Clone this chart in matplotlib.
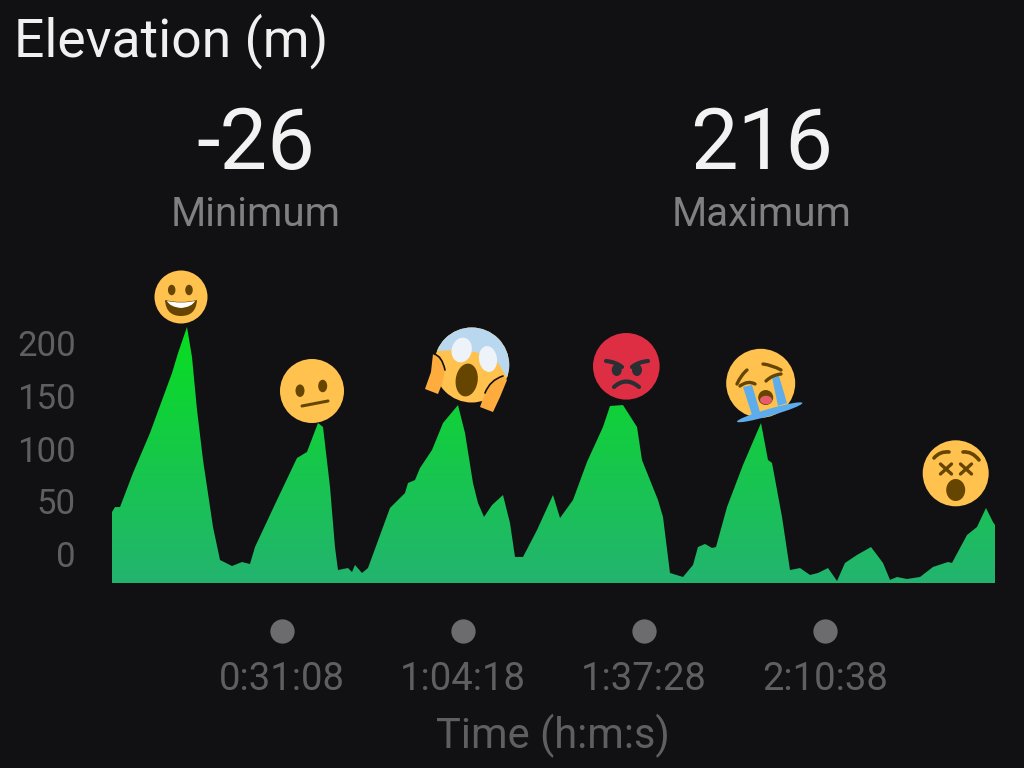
import numpy as np
import matplotlib
matplotlib.use("Agg")
import matplotlib.pyplot as plt
from matplotlib.patches import Circle, Ellipse, Polygon, PathPatch
from matplotlib.path import Path

# ---------- data ----------
title = "Elevation (m)"
stat_values = ["-26", "216"]
stat_labels = ["Minimum", "Maximum"]
y_ticks = [0, 50, 100, 150, 200]
x_ticks = [31.133, 64.3, 97.467, 130.633]
x_tick_labels = ["0:31:08", "1:04:18", "1:37:28", "2:10:38"]
x_label = "Time (h:m:s)"

time_min = [0, 0.55, 1.47, 3.85, 6.96, 11.0, 12.1, 13.74, 14.66, 15.58, 16.68, 18.51,
            19.79, 21.99, 23.82, 25.29, 26.2, 30.24, 33.9, 35.73, 37.75, 38.67, 39.95,
            40.86, 41.41, 43.25, 43.98, 44.53, 45.81, 46.91, 50.94, 53.69, 54.24, 55.52,
            56.44, 58.64, 60.66, 63.4, 64.69, 66.15, 67.07, 68.17, 69.64, 71.65, 72.93,
            73.85, 75.32, 77.88, 80.81, 82.1, 84.48, 87.04, 89.97, 91.26, 93.64, 96.21,
            97.12, 100.05, 100.97, 102.25, 104.64, 106.47, 107.38, 108.67, 109.95, 110.68,
            112.7, 115.63, 118.93, 120.21, 120.95, 122.78, 124.24, 126.08, 127.91, 129.38,
            131.21, 132.86, 134.32, 136.52, 139.09, 141.29, 142.57, 143.85, 145.68, 148.07,
            150.45, 153.2, 153.93, 156.68, 158.51, 160.16, 161.44, 161.81]
elevation = [39.8, 44.5, 44.5, 76.8, 114.7, 171.6, 190.5, 215.2, 186.7, 136.5, 89.1, 25.6,
             -5.7, -11.4, -7.6, -9.5, 6.6, 51.2, 91, 96.7, 124.2, 120.4, 63.5,
             6.6, -15.2, -13.3, -17.1, -10.4, -18, -13.3, 43.6, 57.8, 67.3, 70.1,
             81.5, 98.6, 124.2, 141.2, 114.7, 67.3, 48.3, 35.1, 46.4, 55.9, 29.4,
             -2.8, -2.8, 22.7, 55.9, 34.1, 51.2, 87.2, 120.4, 140.3, 141.2, 120.4,
             89.1, 51.2, 35.1, -18, -21.8, -10.4, 6.6, 9.5, 5.7, 6.6,
             44.5, 84.4, 124.2, 89.1, 86.3, 35.1, -15.2, -13.3, -19.9, -18,
             -13.3, -25.6, -8.5, -0.9, 6.6, -8.5, -24.6, -21.8, -23.7, -21.8,
             -12.3, -7.6, -8.5, 18, 25.6, 43.6, 30.3, 27.5]
y_floor = -27.5

# ---------- colours ----------
BG = "#111113"
YEL = "#FFC24F"
BRN = "#664500"
FONT = "Roboto"
GREY = "#5F5F61"

plt.rcParams["font.family"] = [FONT, "DejaVu Sans"]
fig = plt.figure(figsize=(10.24, 7.68), dpi=100, facecolor=BG)

# ---------- main chart ----------
ax = fig.add_axes([112 / 1024, (768 - 583) / 768, 883 / 1024, 283 / 768], facecolor="none")
top_rgb = np.array([8, 222, 32]) / 255
bot_rgb = np.array([35, 180, 112]) / 255
frac = np.linspace(0, 1, 256)[:, None, None]
grad = bot_rgb[None, None, :] * (1 - frac) + top_rgb[None, None, :] * frac
im = ax.imshow(grad, extent=[time_min[0], time_min[-1], y_floor, max(elevation)],
               origin="lower", aspect="auto", zorder=2)
area = ax.fill_between(time_min, elevation, y_floor, facecolor="none", edgecolor="none")
im.set_clip_path(area.get_paths()[0], transform=ax.transData)
ax.set_xlim(time_min[0], time_min[-1])
ax.set_ylim(y_floor, 240.8)
for s in ax.spines.values():
    s.set_visible(False)
ax.set_yticks(y_ticks)
ax.set_xticks(x_ticks)
ax.set_xticklabels(x_tick_labels)
ax.tick_params(axis="y", length=0, pad=26, labelsize=25, labelcolor=GREY)
ax.tick_params(axis="x", length=0, pad=56.5, labelsize=27.5, labelcolor=GREY)
ax.set_xlabel(x_label, fontsize=30, color=GREY)
ax.xaxis.set_label_coords((553 - 112) / 883, -(714 - 583) / 283, transform=ax.transAxes)
ax.plot(x_ticks, [-(631 - 583) / 283] * len(x_ticks), "o", ms=17.5, mfc="#6C6C6E", mec="none",
        clip_on=False, transform=ax.get_xaxis_transform())

# ---------- overlay in pixels for text and emoji ----------
ov = fig.add_axes([0, 0, 1, 1], facecolor="none")
ov.set_xlim(0, 1024)
ov.set_ylim(768, 0)
ov.axis("off")
ov.text(14, 41, title, color="#F0F0F0", fontsize=38.5, ha="left", va="center")
for cx, v, l in zip([256, 762], stat_values, stat_labels):
    ov.text(cx, 145, v, color="#F2F2F2", fontsize=61, ha="center", va="center")
    ov.text(cx, 214, l, color="#808083", fontsize=29, ha="center", va="center")


def curve(p0, c, p1, color, lw):
    ov.add_patch(PathPatch(Path([p0, c, p1], [Path.MOVETO, Path.CURVE3, Path.CURVE3]),
                           fc="none", ec=color, lw=lw, capstyle="round", zorder=4))


def face(cx, cy, r, col=YEL):
    c = Circle((cx, cy), r, fc=col, ec="none", zorder=1)
    ov.add_patch(c)
    return c


def ell(cx, cy, w, h, col, ang=0, z=3):
    ov.add_patch(Ellipse((cx, cy), w, h, angle=ang, fc=col, ec="none", zorder=z))


# grinning
face(181, 297, 26.5)
ell(171.7, 290, 7.5, 10.5, BRN)
ell(189, 290, 7.5, 10.5, BRN)
ov.add_patch(PathPatch(Path([(165, 300), (181, 304), (197, 300), (196, 316), (181, 316), (166, 316), (165, 300)],
                            [Path.MOVETO, Path.CURVE3, Path.CURVE3, Path.CURVE3, Path.CURVE3, Path.CURVE3, Path.CURVE3]),
                       fc=BRN, ec="none", zorder=3))
ov.add_patch(PathPatch(Path([(167, 301), (181, 304), (195, 301), (192, 307), (181, 308), (170, 307), (167, 301)],
                            [Path.MOVETO, Path.CURVE3, Path.CURVE3, Path.CURVE3, Path.CURVE3, Path.CURVE3, Path.CURVE3]),
                       fc="white", ec="none", zorder=4))

# neutral
face(312, 391, 32)
ell(300, 390.7, 9, 12.5, BRN)
ell(322.7, 386, 9, 12.5, BRN)
ov.plot([302, 328], [406, 401], color=BRN, lw=2.2, solid_capstyle="round")

# scream
sc = Circle((471.7, 365), 37.5, fc=YEL, ec="none", zorder=1)
ov.add_patch(sc)
blue = Polygon([(430, 320), (512, 320), (512, 380), (506, 376), (495, 358), (475, 352), (455, 350), (436, 351)],
               fc="#B9D7EF", ec="none", zorder=2)
ov.add_patch(blue)
blue.set_clip_path(sc)
ell(461.7, 350, 20, 25, "#EEF3F9", ang=15)
ell(488, 359, 18, 26, "#EEF3F9", ang=-8)
ell(466.7, 380, 22, 33, BRN, ang=8)
ov.add_patch(Polygon([(433, 354), (441, 356), (445, 370), (442, 384), (438, 394), (425, 389), (431, 372)],
                     fc="#FFAC3F", ec="none", zorder=5))
ov.add_patch(Polygon([(503, 376), (507, 380), (500, 397), (493, 412), (480, 407), (485, 393), (492, 382)],
                     fc="#FFAC3F", ec="none", zorder=5))
curve((434, 354), (442, 356), (445, 370), "#111111", 1.2)
curve((503, 376), (490, 380), (485, 393), "#111111", 1.2)
for s_patch in ov.patches[-2:]:
    s_patch.set_zorder(6)

# angry
face(626.3, 366.3, 33.3, "#DD2E44")
DK = "#292F33"
ell(616.7, 370, 10, 12, DK)
ell(637, 370, 10, 12, DK)
curve((606, 361), (616, 362), (622, 367), DK, 3)
curve((648, 361), (638, 362), (632, 367), DK, 3)
curve((614, 387), (626, 376), (639, 387), DK, 3)

# crying
face(760.7, 383.3, 34.5)
TEAR = "#5DADEC"
ov.add_patch(Polygon([(743, 387), (752, 385), (760, 412), (752, 415)], fc=TEAR, ec="none", zorder=3))
ov.add_patch(Polygon([(772, 377), (779, 376), (787, 403), (778, 406)], fc=TEAR, ec="none", zorder=3))
ell(769.7, 412.3, 68, 7, TEAR, ang=-16, z=4)
ell(765.7, 397.5, 15, 15, BRN)
ell(766, 400, 12, 8.5, "#E75A70", z=4)
curve((763, 364), (772, 365), (781, 370), BRN, 2.4)
curve((737, 384), (741, 375), (747, 370), BRN, 2.4)
curve((740, 386), (748, 380), (755, 384), BRN, 2.4)
curve((766, 381), (772, 375), (781, 374), BRN, 2.4)

# dizzy
face(955.7, 473.3, 33)
curve((934, 458), (940, 451), (949, 452), BRN, 2.6)
curve((963, 452), (972, 451), (979, 460), BRN, 2.6)
for ex in (946, 966):
    ov.plot([ex - 5.5, ex + 5.5], [464, 474], color=BRN, lw=2.4, solid_capstyle="round")
    ov.plot([ex - 5.5, ex + 5.5], [474, 464], color=BRN, lw=2.4, solid_capstyle="round")
ell(955.7, 490, 19, 22, BRN)

fig.savefig("out.png", dpi=100, facecolor=BG)
